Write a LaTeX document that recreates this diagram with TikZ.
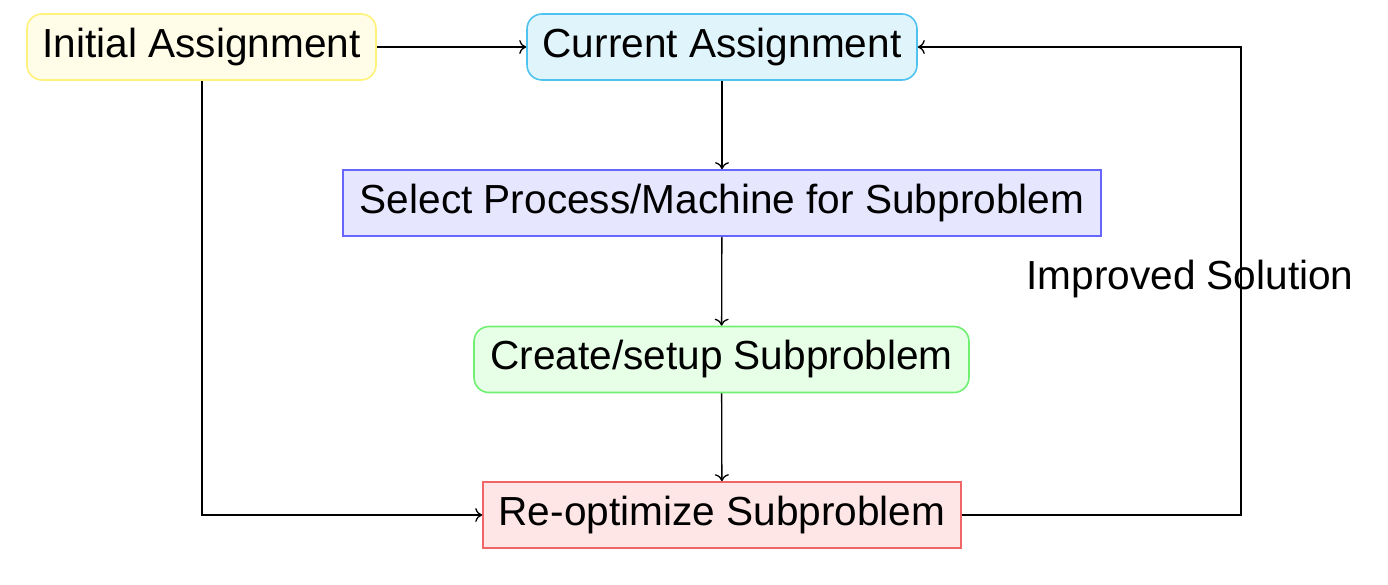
\documentclass[tikz,border=0pt]{standalone}
\usepackage{fontspec}
\setmainfont{Liberation Sans}
\usetikzlibrary{arrows.meta}
\definecolor{yfill}{HTML}{FFFCE8}
\definecolor{ydraw}{HTML}{FFF27A}
\definecolor{cfill}{HTML}{E0F4FC}
\definecolor{cdraw}{HTML}{4FC3F0}
\definecolor{bfill}{HTML}{E6E6FF}
\definecolor{bdraw}{HTML}{6666FF}
\definecolor{gfill}{HTML}{E6FFE6}
\definecolor{gdraw}{HTML}{70F070}
\definecolor{rfill}{HTML}{FFE6E6}
\definecolor{rdraw}{HTML}{F06666}
\begin{document}
\begin{tikzpicture}[x=1pt,y=-1pt,
  every node/.style={font=\fontsize{40.6}{49}\selectfont},
  box/.style={draw, line width=1.6pt, minimum height=66pt, inner sep=0pt, anchor=center},
  rbox/.style={box, rounded corners=15pt},
  conn/.style={draw, line width=1.3pt, -{To[length=7pt,width=14pt]}}]
\useasboundingbox (0,0) rectangle (1388,585);
\node[rbox, fill=yfill, draw=ydraw, minimum width=349pt] (init) at (201.5,47) {Initial Assignment};
\node[rbox, fill=cfill, draw=cdraw, minimum width=390pt] (cur) at (722,47) {Current Assignment};
\node[box, fill=bfill, draw=bdraw, minimum width=758pt] (sel) at (722,203) {Select Process/Machine for Subproblem};
\node[rbox, fill=gfill, draw=gdraw, minimum width=495pt] (cre) at (721.5,359.5) {Create/setup Subproblem};
\node[box, fill=rfill, draw=rdraw, minimum width=478pt] (reo) at (722,515) {Re-optimize Subproblem};
\node[inner sep=0pt] (imp) at (1190,279) {Improved Solution};
\coordinate (rc) at (1241,0);
\draw[conn] (init) -- (cur);
\draw[conn] (cur) -- (sel);
\draw[conn] (sel) -- (cre);
\draw[conn] (cre) -- (reo);
\draw[conn] (init.south -| 202,0) |- (reo.west);
\draw[conn] (reo.east) -| (rc |- imp) |- (cur.east);
\end{tikzpicture}
\end{document}
